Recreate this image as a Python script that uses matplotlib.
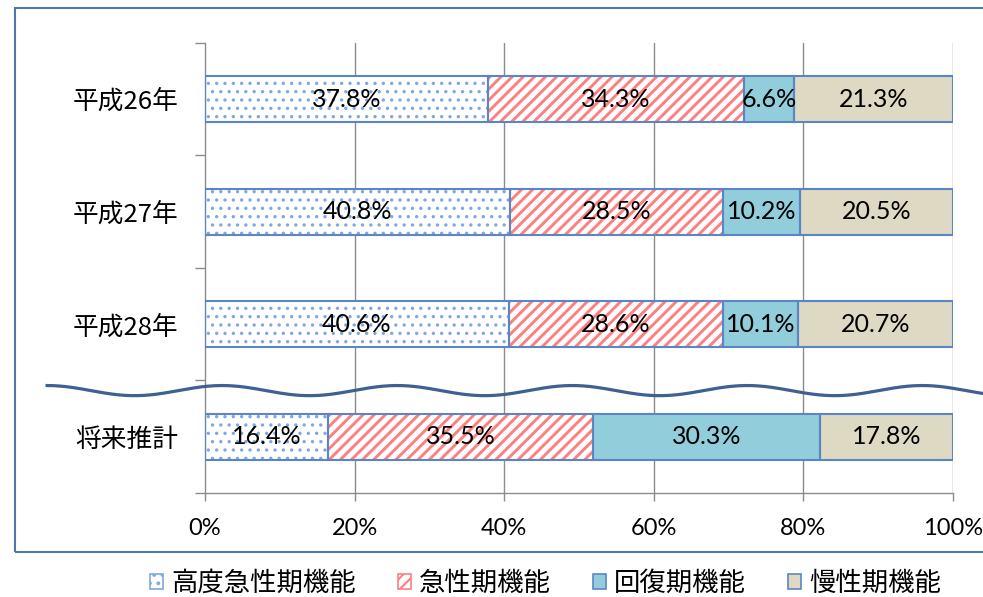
import numpy as np
import matplotlib as mpl
import matplotlib.pyplot as plt
from matplotlib.patches import Patch, Rectangle

categories = ['平成26年', '平成27年', '平成28年', '将来推計']
series = ['高度急性期機能', '急性期機能', '回復期機能', '慢性期機能']
values = np.array([
    [37.8, 34.3, 6.6, 21.3],
    [40.8, 28.5, 10.2, 20.5],
    [40.6, 28.6, 10.1, 20.7],
    [16.4, 35.5, 30.3, 17.8],
])
xticks = [0, 20, 40, 60, 80, 100]

face = ['white', 'white', '#92cddc', '#ddd9c3']
hatch = ['..', '///', None, None]
hatch_col = ['#7fa8e0', '#ff7f80', None, None]
hatch_lw = [1.2, 2.1, None, None]
edge = '#5a86c5'
grid_col = '#8c8c8c'

jp = ['Noto Sans CJK JP', 'DejaVu Sans']
num = ['Lato', 'DejaVu Sans']

fig = plt.figure(figsize=(9.83, 5.97), dpi=100)
ax = fig.add_axes([0.2085, 0.1742, 0.761, 0.754])

y = np.arange(len(categories))
h = 0.41
left = np.zeros(len(categories))
for j in range(len(series)):
    w = values[:, j]
    if hatch[j]:
        with plt.rc_context({'hatch.linewidth': hatch_lw[j]}):
            bars = ax.barh(y, w, h, left=left, color='white', edgecolor=hatch_col[j],
                           hatch=hatch[j], linewidth=0, zorder=2)
        for b in bars:
            if hasattr(b, 'set_hatch_linewidth'):
                b.set_hatch_linewidth(hatch_lw[j])
    else:
        ax.barh(y, w, h, left=left, color=face[j], linewidth=0, zorder=2)
    ax.barh(y, w, h, left=left, fill=False, edgecolor=edge, linewidth=1.5, zorder=3)
    for yi, l, v in zip(y, left, w):
        ax.text(l + v / 2, yi, f'{v:.1f}%', ha='center', va='center',
                fontsize=18, family=num, zorder=4)
    left = left + w

ax.set_xlim(0, 100)
ax.set_ylim(3.5, -0.5)
ax.set_xticks(xticks)
ax.set_xticklabels([f'{t}%' for t in xticks], fontsize=17, family=num)
ax.set_yticks(y)
ax.set_yticklabels(categories, fontsize=18.5, family=jp)
ax.set_yticks(np.arange(-0.5, len(categories)), minor=True)
ax.tick_params(axis='y', which='major', length=0, pad=19)
ax.tick_params(axis='y', which='minor', length=7, color=grid_col, width=1)
ax.tick_params(axis='x', length=6, color=grid_col, width=1, pad=12)
for t in xticks[1:]:
    ax.axvline(t, color=grid_col, lw=1, zorder=1)
for s in ['top', 'right']:
    ax.spines[s].set_visible(False)
for s in ['left', 'bottom']:
    ax.spines[s].set_color(grid_col)
    ax.spines[s].set_linewidth(1)

# wavy break line between actual years and the estimate
wx = np.linspace(-21.1, 104, 600)
wy = 2.59 - 0.045 * np.cos(2 * np.pi * (wx + 21.1) / 23.4)
ax.plot(wx, wy, color='#3d6192', lw=2.3, clip_on=False, zorder=5)

# outer frame
fig.patches.append(Rectangle((15 / 983, 45 / 597), 1.2, 1 - 53 / 597,
                             transform=fig.transFigure, fill=False,
                             edgecolor='#4f77aa', lw=1.5))

handles = []
for j in range(len(series)):
    p = Patch(facecolor=face[j],
              edgecolor=hatch_col[j] if hatch[j] else edge,
              hatch=hatch[j], linewidth=1.2)
    handles.append(p)
with plt.rc_context({'hatch.linewidth': 1.5}):
    fig.legend(handles, series, loc='center', bbox_to_anchor=(0.555, 0.0235),
               ncol=4, frameon=False, prop={'family': jp, 'size': 19},
               handlelength=0.5, handleheight=0.5, handletextpad=0.3,
               columnspacing=1.6, borderaxespad=0)

fig.savefig('out.png', dpi=100)
